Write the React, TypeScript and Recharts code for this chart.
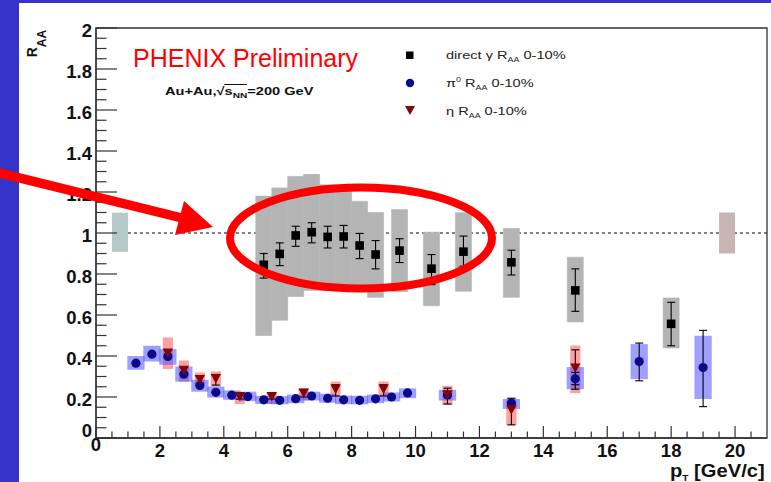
import React from 'react';
import { ComposedChart, XAxis, YAxis, Scatter, ErrorBar, ReferenceArea, ReferenceLine } from 'recharts';

const FONT = '"Liberation Sans", Arial, Helvetica, sans-serif';

// direct photon R_AA 0-10% (black squares, grey systematic boxes)
const gammaPt = [5.25, 5.75, 6.25, 6.75, 7.25, 7.75, 8.25, 8.75, 9.5, 10.5, 11.5, 13, 15, 18];
const gammaRaa = [0.845, 0.898, 0.988, 1.004, 0.981, 0.983, 0.939, 0.895, 0.914, 0.826, 0.909, 0.857, 0.72, 0.557];
const gammaStatLo = [0.78, 0.841, 0.935, 0.952, 0.927, 0.927, 0.875, 0.825, 0.856, 0.748, 0.838, 0.795, 0.618, 0.45];
const gammaStatHi = [0.9, 0.952, 1.033, 1.05, 1.033, 1.037, 0.998, 0.963, 0.972, 0.895, 0.985, 0.916, 0.825, 0.662];
const gammaSysLo = [0.5, 0.574, 0.69, 0.72, 0.72, 0.72, 0.72, 0.686, 0.714, 0.645, 0.716, 0.686, 0.566, 0.439];
const gammaSysHi = [1.18, 1.22, 1.276, 1.286, 1.235, 1.225, 1.155, 1.1, 1.115, 1.004, 1.099, 1.022, 0.882, 0.683];

// pi0 R_AA 0-10% (navy circles, blue boxes)
const pi0Pt = [1.25, 1.75, 2.25, 2.75, 3.25, 3.75, 4.25, 4.75, 5.25, 5.75, 6.25, 6.75, 7.25, 7.75, 8.25, 8.75, 9.25, 9.75, 11, 13, 15, 17, 19];
const pi0Raa = [0.365, 0.409, 0.398, 0.311, 0.256, 0.223, 0.209, 0.202, 0.186, 0.184, 0.192, 0.205, 0.194, 0.186, 0.184, 0.191, 0.2, 0.22, 0.21, 0.17, 0.289, 0.373, 0.344];
const pi0StatLo = [0.363, 0.407, 0.396, 0.309, 0.254, 0.221, 0.207, 0.2, 0.184, 0.182, 0.19, 0.203, 0.192, 0.184, 0.182, 0.189, 0.198, 0.218, 0.206, 0.163, 0.26, 0.279, 0.153];
const pi0StatHi = [0.367, 0.411, 0.4, 0.313, 0.258, 0.225, 0.211, 0.204, 0.188, 0.186, 0.194, 0.207, 0.196, 0.188, 0.186, 0.193, 0.202, 0.222, 0.214, 0.177, 0.32, 0.463, 0.525];
const pi0SysLo = [0.333, 0.373, 0.357, 0.275, 0.226, 0.197, 0.186, 0.18, 0.166, 0.164, 0.17, 0.183, 0.172, 0.165, 0.164, 0.17, 0.178, 0.194, 0.183, 0.142, 0.238, 0.287, 0.19];
const pi0SysHi = [0.4, 0.45, 0.434, 0.349, 0.284, 0.251, 0.232, 0.226, 0.206, 0.204, 0.212, 0.226, 0.216, 0.207, 0.206, 0.212, 0.222, 0.242, 0.235, 0.19, 0.346, 0.458, 0.499];

// eta R_AA 0-10% (dark red triangles, pink boxes)
const etaPt = [2.25, 2.75, 3.25, 3.75, 4.5, 5.5, 6.5, 7.5, 9, 11, 13, 15];
const etaRaa = [0.414, 0.329, 0.284, 0.289, 0.202, 0.202, 0.218, 0.238, 0.238, 0.21, 0.137, 0.341];
const etaStatLo = [0.395, 0.31, 0.265, 0.258, 0.19, 0.19, 0.2, 0.205, 0.205, 0.166, 0.064, 0.238];
const etaStatHi = [0.43, 0.345, 0.3, 0.31, 0.215, 0.215, 0.235, 0.26, 0.26, 0.243, 0.194, 0.43];
const etaSysLo = [0.336, 0.275, 0.254, 0.251, 0.166, 0.166, 0.183, 0.202, 0.202, 0.161, 0.064, 0.219];
const etaSysHi = [0.49, 0.378, 0.32, 0.324, 0.223, 0.223, 0.243, 0.275, 0.275, 0.254, 0.194, 0.451];

// normalisation uncertainty boxes at R_AA = 1
const normPtLo = [0.5, 19.5];
const normPtHi = [1.0, 20.0];
const normLo = [0.908, 0.9];
const normHi = [1.099, 1.1];
const normColors = ['#b5c9c8', '#c9b4b4'];

const xMajor = [0, 2, 4, 6, 8, 10, 12, 14, 16, 18, 20];
const yMajor = [0, 0.2, 0.4, 0.6, 0.8, 1, 1.2, 1.4, 1.6, 1.8, 2];
const xTicks: number[] = [];
for (let i = 0; i <= 41; i++) xTicks.push(i / 2);
const yTicks: number[] = [];
for (let i = 0; i <= 40; i++) yTicks.push(i / 20);

const GAMMA_HALF = 0.25;
const PI0_HALF = 0.27;
const ETA_HALF = 0.16;

const W = 771;
const H = 482;
const MARGIN = { top: 28, right: 4, bottom: 43, left: 95 };

const toPoints = (pt: number[], raa: number[], lo: number[], hi: number[]) =>
  pt.map((x, i) => ({ x, y: raa[i], err: [raa[i] - lo[i], hi[i] - raa[i]] }));

const gammaData = toPoints(gammaPt, gammaRaa, gammaStatLo, gammaStatHi);
const pi0Data = toPoints(pi0Pt, pi0Raa, pi0StatLo, pi0StatHi);
const etaData = toPoints(etaPt, etaRaa, etaStatLo, etaStatHi);

const XTick = (props: any) => {
  const { x, y, payload } = props;
  const v = payload.value;
  const major = xMajor.includes(v);
  return (
    <g>
      <line x1={x} x2={x} y1={y} y2={y - (major ? 12 : 6.5)} stroke="#333" strokeWidth={1.2} />
      {major && (
        <text x={x} y={v === 0 ? y + 13 : y + 18.5} textAnchor="middle" fontSize={18.5} fontWeight="bold" fontFamily={FONT} fill="#111">
          {v}
        </text>
      )}
    </g>
  );
};

const YTick = (props: any) => {
  const { x, y, payload } = props;
  const v = payload.value;
  const major = yMajor.some((m) => Math.abs(m - v) < 1e-6);
  return (
    <g>
      <line x1={x} x2={x + (major ? 21 : 10.5)} y1={y} y2={y} stroke="#333" strokeWidth={1.2} />
      {major && (
        <text x={x - 4} y={v === 0 ? y - 1 : y + 9} textAnchor="end" fontSize={18.5} fontWeight="bold" fontFamily={FONT} fill="#111">
          {v}
        </text>
      )}
    </g>
  );
};

const square = (p: any) => <rect x={p.cx - 4.3} y={p.cy - 4.3} width={8.6} height={8.6} fill="#000" />;
const circle = (p: any) => <circle cx={p.cx} cy={p.cy} r={4.6} fill="#0b0b8a" />;
const triangle = (p: any) => (
  <polygon points={`${p.cx - 5.2},${p.cy - 4.7} ${p.cx + 5.2},${p.cy - 4.7} ${p.cx},${p.cy + 4.7}`} fill="#850505" />
);

// dashed R_AA = 1 line lives in its own chart underneath, so the grey boxes cover it
const UnityLine = () => (
  <ComposedChart width={W} height={H} margin={MARGIN} data={gammaData}>
    <XAxis type="number" dataKey="x" domain={[0, 21]} height={1} tick={false} tickLine={false} axisLine={false} allowDataOverflow />
    <YAxis type="number" dataKey="y" domain={[0, 2]} width={1} tick={false} tickLine={false} axisLine={false} allowDataOverflow />
    <ReferenceLine
      segment={[{ x: 1, y: 1 }, { x: 21, y: 1 }]}
      stroke="#000"
      strokeWidth={1}
      strokeDasharray="3 3"
      ifOverflow="visible"
    />
  </ComposedChart>
);

const Overlay = () => (
  <svg width={W} height={H} style={{ position: 'absolute', left: 0, top: 0, pointerEvents: 'none' }} fontFamily={FONT}>
    <text x={133} y={66.5} fontSize={25} fill="#ff0000">PHENIX Preliminary</text>
    <g transform="translate(165 95) scale(1.26 1)">
      <text x={0} y={0} fontSize={11.6} fontWeight="bold" fill="#111">
        Au+Au,√s
        <tspan fontSize={8} dy={3}>NN</tspan>
        <tspan dy={-3}>=200 GeV</tspan>
      </text>
      <line x1={47} x2={65} y1={-10.5} y2={-10.5} stroke="#111" strokeWidth={1} />
    </g>

    <rect x={406} y={51.5} width={7.5} height={7.5} fill="#000" />
    <circle cx={410} cy={83} r={4.2} fill="#0b0b8a" />
    <polygon points="405,106 415,106 410,115" fill="#850505" />
    <g transform="translate(446 58.5) scale(1.27 1)" fill="#222" fontSize={11.5}>
      <text>
        direct γ R<tspan fontSize={7} dy={3}>AA</tspan>
        <tspan dy={-3}> 0-10%</tspan>
      </text>
    </g>
    <g transform="translate(446 87) scale(1.27 1)" fill="#222" fontSize={11.5}>
      <text>
        π<tspan fontSize={7} dy={-5}>0</tspan>
        <tspan dy={5}> R</tspan>
        <tspan fontSize={7} dy={3}>AA</tspan>
        <tspan dy={-3}> 0-10%</tspan>
      </text>
    </g>
    <g transform="translate(446 114.5) scale(1.27 1)" fill="#222" fontSize={11.5}>
      <text>
        η R<tspan fontSize={7} dy={3}>AA</tspan>
        <tspan dy={-3}> 0-10%</tspan>
      </text>
    </g>

    <text transform="translate(37.3 57.3) rotate(-90)" fontSize={14} fontWeight="bold" fill="#111">
      R<tspan fontSize={12} dy={9}>AA</tspan>
    </text>
    <g transform="translate(670 476.5) scale(1.12 1)">
      <text fontSize={18} fontWeight="bold" fill="#111">
        p<tspan fontSize={9} dy={4}>T</tspan>
        <tspan dy={-4}> [GeV/c]</tspan>
      </text>
    </g>

    <ellipse cx={361} cy={238} rx={131} ry={50.5} fill="none" stroke="#ff0000" strokeWidth={8} />
    <line x1={-5} y1={172} x2={182} y2={218} stroke="#ff0000" strokeWidth={9.5} />
    <polygon points="213,227 184,201 175,235" fill="#ff0000" />
  </svg>
);

export default function App() {
  return (
    <div style={{ position: 'absolute', left: 0, top: 0, width: W, height: H, background: '#3434c9', overflow: 'hidden' }}>
      <div style={{ position: 'absolute', left: 19, top: 3, right: 0, bottom: 0, background: '#fff' }} />
      <div style={{ position: 'absolute', left: 0, top: 0 }}>
        <UnityLine />
      </div>
      <div style={{ position: 'absolute', left: 0, top: 0 }}>
        <ComposedChart width={W} height={H} margin={MARGIN}>
          <XAxis
            type="number"
            dataKey="x"
            domain={[0, 21]}
            ticks={xTicks}
            interval={0}
            tickSize={0}
            tickMargin={0}
            tickLine={false}
            tick={<XTick />}
            height={1}
            axisLine={{ stroke: '#333', strokeWidth: 1.3 }}
            allowDataOverflow
          />
          <YAxis
            type="number"
            dataKey="y"
            domain={[0, 2]}
            ticks={yTicks}
            interval={0}
            tickSize={0}
            tickMargin={0}
            tickLine={false}
            tick={<YTick />}
            width={1}
            axisLine={{ stroke: '#333', strokeWidth: 1.3 }}
            allowDataOverflow
          />
          <ReferenceArea x1={0} x2={21} y1={0} y2={2} fill="none" stroke="#333" strokeWidth={1.3} />
          {gammaPt.map((x, i) => (
            <ReferenceArea key={`g${i}`} x1={x - GAMMA_HALF} x2={x + GAMMA_HALF} y1={gammaSysLo[i]} y2={gammaSysHi[i]} fill="#b4b4b4" fillOpacity={1} stroke="#b4b4b4" strokeWidth={0.6} />
          ))}
          {etaPt.map((x, i) => (
            <ReferenceArea key={`e${i}`} x1={x - ETA_HALF} x2={x + ETA_HALF} y1={etaSysLo[i]} y2={etaSysHi[i]} fill="#ff5c5c" fillOpacity={0.58} stroke="none" />
          ))}
          {pi0Pt.map((x, i) => (
            <ReferenceArea key={`p${i}`} x1={x - PI0_HALF} x2={x + PI0_HALF} y1={pi0SysLo[i]} y2={pi0SysHi[i]} fill="#5050ff" fillOpacity={0.55} stroke="none" />
          ))}
          {normPtLo.map((x, i) => (
            <ReferenceArea key={`n${i}`} x1={x} x2={normPtHi[i]} y1={normLo[i]} y2={normHi[i]} fill={normColors[i]} fillOpacity={1} stroke="none" />
          ))}
          <Scatter data={gammaData} dataKey="y" shape={square} isAnimationActive={false}>
            <ErrorBar dataKey="err" direction="y" width={4} stroke="#000" strokeWidth={1.1} />
          </Scatter>
          <Scatter data={pi0Data} dataKey="y" shape={circle} isAnimationActive={false}>
            <ErrorBar dataKey="err" direction="y" width={4} stroke="#000" strokeWidth={1.1} />
          </Scatter>
          <Scatter data={etaData} dataKey="y" shape={triangle} isAnimationActive={false}>
            <ErrorBar dataKey="err" direction="y" width={4} stroke="#000" strokeWidth={1.1} />
          </Scatter>
        </ComposedChart>
      </div>
      <Overlay />
    </div>
  );
}
